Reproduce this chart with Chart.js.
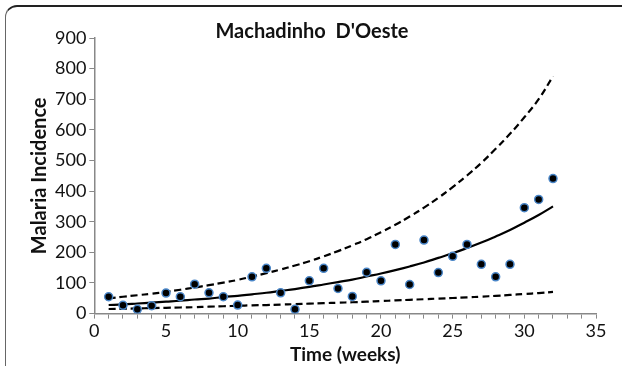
<!DOCTYPE html>
<html>
<head>
<meta charset="utf-8">
<script src="https://cdn.jsdelivr.net/npm/chart.js@4.4.0/dist/chart.umd.min.js"></script>
<style>
    html, body { margin: 0; padding: 0; background: #fff; }
    #wrap { position: relative; width: 622px; height: 366px; overflow: hidden; }
    #frame {
        position: absolute; left: 5px; top: 5px; width: 640px; height: 400px;
        border-top: 2px solid #222; border-left: 1px solid #666;
        border-top-left-radius: 12px; box-sizing: border-box;
    }
    canvas { position: absolute; left: 0; top: 0; }
</style>
</head>
<body>
<div id="wrap">
    <div id="frame"></div>
    <canvas id="chart" width="622" height="366"></canvas>
</div>
<script>
const weeks = [1, 2, 3, 4, 5, 6, 7, 8, 9, 10, 11, 12, 13, 14, 15, 16,
    17, 18, 19, 20, 21, 22, 23, 24, 25, 26, 27, 28, 29, 30, 31, 32];
const observed = [55, 27, 14, 26, 67, 55, 96, 68, 55, 28, 120, 148, 68, 14, 107, 148,
    82, 56, 135, 107, 226, 95, 240, 134, 187, 226, 161, 120, 161, 346, 373, 441];
const fitted = [28, 30, 33, 36, 39, 42, 46, 49, 54, 58, 63, 68, 74, 80, 87, 95,
    103, 111, 121, 131, 142, 154, 167, 182, 197, 214, 232, 252, 273, 297, 322, 350];
const upper = [50, 55, 60, 65, 71, 78, 85, 93, 101, 110, 121, 132, 144, 157, 171, 187,
    204, 223, 243, 266, 290, 317, 346, 378, 413, 451, 492, 538, 587, 641, 700, 775];
const lower = [15, 16, 17, 18, 19, 20, 21, 22.5, 24, 25.5, 27, 28, 29.5, 31, 32.5, 34,
    35.5, 37, 39, 41, 43, 45, 47, 49, 51, 53, 55.5, 58, 61, 64, 67, 71];
const yTicks = [0, 100, 200, 300, 400, 500, 600, 700, 800, 900];
const xTicks = [0, 1, 2, 3, 4, 5, 6, 7, 8, 9, 10, 11, 12, 13, 14, 15, 16, 17,
    18, 19, 20, 21, 22, 23, 24, 25, 26, 27, 28, 29, 30, 31, 32, 33, 34, 35];
const xLabelTicks = [0, 5, 10, 15, 20, 25, 30, 35];

function toPoints(vals) {
    return weeks.map((w, i) => ({x: w, y: vals[i]}));
}

const fontFam = 'Lato, "Open Sans", sans-serif';

let ctx = document.getElementById('chart').getContext('2d');
let chart = new Chart(ctx, {
    type: 'scatter',
    data: {
        datasets: [{
            label: 'upper',
            data: toPoints(upper),
            showLine: true,
            borderColor: '#000',
            borderWidth: 2.2,
            borderDash: [7, 4],
            pointRadius: 0,
            tension: 0.4,
            order: 2
        }, {
            label: 'lower',
            data: toPoints(lower),
            showLine: true,
            borderColor: '#000',
            borderWidth: 2.2,
            borderDash: [7, 4],
            pointRadius: 0,
            tension: 0.4,
            order: 2
        }, {
            label: 'fitted',
            data: toPoints(fitted),
            showLine: true,
            borderColor: '#000',
            borderWidth: 2.2,
            pointRadius: 0,
            tension: 0.4,
            order: 2
        }, {
            label: 'observed',
            data: toPoints(observed),
            showLine: false,
            pointRadius: 4,
            pointBackgroundColor: '#000',
            pointBorderColor: '#4a86c8',
            pointBorderWidth: 1.5,
            order: 1
        }]
    },
    options: {
        responsive: false,
        animation: false,
        layout: {padding: {left: 28, right: 26, top: 0, bottom: 0}},
        plugins: {
            legend: {display: false},
            tooltip: {enabled: false},
            title: {
                display: true,
                text: 'Machadinho  D\'Oeste',
                color: '#111',
                font: {family: fontFam, size: 20, weight: 'bold'},
                padding: {top: 20, bottom: -6}
            }
        },
        scales: {
            x: {
                type: 'linear',
                min: 0,
                max: 35,
                afterBuildTicks: (axis) => {
                    axis.ticks = xTicks.map(v => ({value: v}));
                },
                ticks: {
                    autoSkip: false,
                    maxRotation: 0,
                    padding: 2,
                    color: '#111',
                    font: {family: fontFam, size: 18},
                    callback: (v) => xLabelTicks.includes(v) ? String(v) : ''
                },
                grid: {drawOnChartArea: false, tickLength: 5, color: '#888'},
                border: {color: '#888', width: 1.5},
                title: {
                    display: true,
                    text: 'Time (weeks)',
                    color: '#111',
                    font: {family: fontFam, size: 19, weight: 'bold'},
                    padding: {top: -1, bottom: 0}
                }
            },
            y: {
                min: 0,
                max: 900,
                afterBuildTicks: (axis) => {
                    axis.ticks = yTicks.map(v => ({value: v}));
                },
                ticks: {
                    padding: 3,
                    color: '#111',
                    font: {family: fontFam, size: 18}
                },
                grid: {drawOnChartArea: false, tickLength: 5, color: '#888'},
                border: {color: '#888', width: 1.5},
                title: {
                    display: true,
                    text: 'Malaria Incidence',
                    color: '#111',
                    font: {family: fontFam, size: 20, weight: 'bold'},
                    padding: {top: 0, bottom: 0}
                }
            }
        }
    }
});
</script>
</body>
</html>
